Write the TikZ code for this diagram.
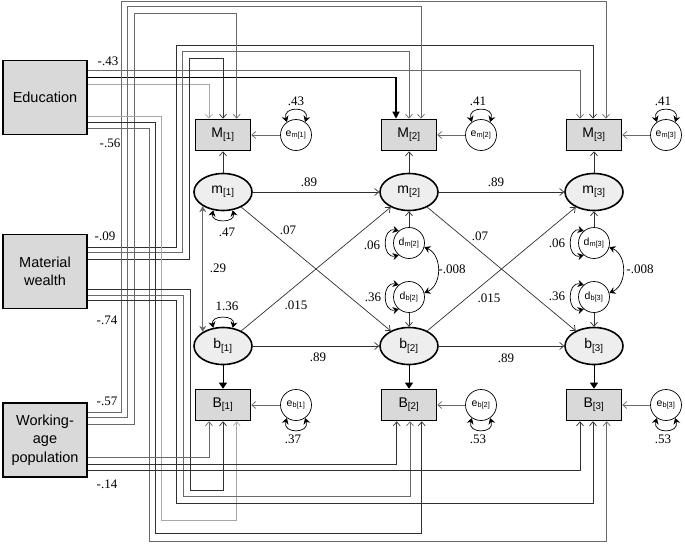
\documentclass[tikz,border=0pt]{standalone}
\usepackage{fontspec}
\setmainfont{Liberation Serif}
\setsansfont{Liberation Sans}
\usetikzlibrary{arrows.meta,shapes.geometric,calc}
\definecolor{boxgray}{HTML}{D9D9D9}
\definecolor{ellgray}{HTML}{EEEEEE}
\definecolor{lg}{HTML}{A8A8A8}
\definecolor{mg}{HTML}{6A6A6A}
\definecolor{dg}{HTML}{303030}
\begin{document}
\begin{tikzpicture}[x=1pt,y=-1pt,
  exo/.style={draw=black,line width=1.8pt,fill=boxgray,minimum width=84pt,minimum height=74pt,inner sep=0pt,align=center,font=\sffamily\fontsize{14.5}{18.5}\selectfont},
  obs/.style={draw=black,line width=1.6pt,fill=boxgray,minimum width=55pt,minimum height=31pt,inner sep=0pt,font=\sffamily\fontsize{14}{16}\selectfont},
  lat/.style={ellipse,draw=black,line width=1.6pt,fill=ellgray,minimum width=58pt,minimum height=37pt,inner sep=0pt,font=\sffamily\fontsize{14}{16}\selectfont},
  err/.style={circle,draw=black,line width=0.7pt,fill=white,minimum size=31pt,inner sep=0pt,font=\sffamily\fontsize{10.5}{12}\selectfont},
  ln/.style={line width=0.7pt,-{Straight Barb[length=4pt,width=7pt]}},
  boldln/.style={line width=1.4pt,draw=black,-{Triangle[length=7pt,width=7pt]}},
  sl/.style={line width=0.7pt,draw=dg,-{Straight Barb[length=4pt,width=7pt]}},
  ind/.style={line width=0.8pt,draw=black,-{Triangle[length=6pt,width=8pt]}},
  lp/.style={line width=0.7pt,draw=black,{Stealth[length=6pt,width=7pt]}-{Stealth[length=6pt,width=7pt]}},
  num/.style={font=\fontsize{13}{13}\selectfont,inner sep=0pt}
]
\useasboundingbox (0,0) rectangle (685,544);

% exogenous boxes
\node[exo] (edu) at (45,97.5) {Education};
\node[exo] (mat) at (45,271.5) {Material\\wealth};
\node[exo] (wap) at (45,440) {Working-\\age\\population};

% observed indicators
\node[obs] (M1) at (223,135) {M\textsubscript{[1]}};
\node[obs] (M2) at (409,135) {M\textsubscript{[2]}};
\node[obs] (M3) at (594,135) {M\textsubscript{[3]}};
\node[obs] (B1) at (223,405) {B\textsubscript{[1]}};
\node[obs] (B2) at (409,405) {B\textsubscript{[2]}};
\node[obs] (B3) at (594,405) {B\textsubscript{[3]}};

% latent
\node[lat] (m1) at (223,192) {m\textsubscript{[1]}};
\node[lat] (m2) at (409,192) {m\textsubscript{[2]}};
\node[lat] (m3) at (594,192) {m\textsubscript{[3]}};
\node[lat] (b1) at (223,346) {b\textsubscript{[1]}};
\node[lat] (b2) at (409,346) {b\textsubscript{[2]}};
\node[lat] (b3) at (594,346) {b\textsubscript{[3]}};

% errors
\node[err] (em1) at (296,135) {e\textsubscript{m[1]}};
\node[err] (em2) at (481,135) {e\textsubscript{m[2]}};
\node[err] (em3) at (666,135) {e\textsubscript{m[3]}};
\node[err] (eb1) at (296,405) {e\textsubscript{b[1]}};
\node[err] (eb2) at (481,405) {e\textsubscript{b[2]}};
\node[err] (eb3) at (666,405) {e\textsubscript{b[3]}};
\node[err] (dm2) at (409,243) {d\textsubscript{m[2]}};
\node[err] (db2) at (409,297) {d\textsubscript{b[2]}};
\node[err] (dm3) at (594,243) {d\textsubscript{m[3]}};
\node[err] (db3) at (594,297) {d\textsubscript{b[3]}};

% Education -> M
\draw[ln,draw=lg] ([yshift=13.5pt]edu.east) -| ([xshift=-14pt]M1.north);
\draw[boldln] ([yshift=20.2pt]edu.east) -| ([xshift=-13pt]M2.north);
\draw[ln,draw=mg] ([yshift=26.8pt]edu.east) -| ([xshift=-14pt]M3.north);
% Material -> M
\draw[ln,draw=dg] ([yshift=12.2pt]mat.east) -| (189.3,58.3) -| (M1.north);
\draw[ln,draw=mg] ([yshift=18.8pt]mat.east) -| (182.7,51.7) -| (M2.north);
\draw[ln,draw=dg] ([yshift=24.2pt]mat.east) -| (176,45) -| ([xshift=-1pt]M3.north);
% Working-age -> M
\draw[ln,draw=mg] ([yshift=15.7pt]wap.east) -| (134.3,13.3) -| ([xshift=13.7pt]M1.north);
\draw[ln,draw=mg] ([yshift=22.3pt]wap.east) -| (127.7,6.7) -| ([xshift=12pt]M2.north);
\draw[ln,draw=mg] ([yshift=27.7pt]wap.east) -| (121,1) -| ([xshift=12pt]M3.north);
% Education -> B
\draw[ln,draw=lg] ([yshift=-19.2pt]edu.east) -| (161.7,520) -| ([xshift=13.7pt]B1.south);
\draw[ln,draw=dg] ([yshift=-24.8pt]edu.east) -| (155.7,533.3) -| ([xshift=12.7pt]B2.south);
\draw[ln,draw=mg] ([yshift=-30.8pt]edu.east) -| (149.3,541.5) -| ([xshift=12.7pt]B3.south);
% Material -> B
\draw[ln,draw=dg] ([yshift=-17.8pt]mat.east) -| (190,490) -| (B1.south);
\draw[ln,draw=mg] ([yshift=-23.5pt]mat.east) -| (183.3,496.5) -| ([xshift=1pt]B2.south);
\draw[ln,draw=dg] ([yshift=-29.2pt]mat.east) -| (176.7,503.3) -| ([xshift=-1pt]B3.south);
% Working-age -> B
\draw[ln,draw=mg] ([yshift=-17.7pt]wap.east) -| ([xshift=-14pt]B1.south);
\draw[ln,draw=dg] ([yshift=-24.3pt]wap.east) -| ([xshift=-12.3pt]B2.south);
\draw[ln,draw=dg] ([yshift=-30pt]wap.east) -| ([xshift=-14pt]B3.south);

% path labels on the left
\node[num] at (108,61) {-.43};
\node[num] at (110,143) {-.56};
\node[num] at (105,236) {-.09};
\node[num] at (107,320) {-.74};
\node[num] at (107,401) {-.57};
\node[num] at (107,484) {-.14};

% structural paths
\draw[sl] (m1) -- (m2);
\draw[sl] (m2) -- (m3);
\draw[sl] (b1) -- (b2);
\draw[sl] (b2) -- (b3);
\draw[sl] (m1) -- (b2);
\draw[sl] (m2) -- (b3);
\draw[sl] (b1) -- (m2);
\draw[sl] (b2) -- (m3);
\node[num] at (309,182) {.89};
\node[num] at (496,182) {.89};
\node[num] at (318,357) {.89};
\node[num] at (506,358) {.89};
\node[num] at (288,230) {.07};
\node[num] at (480,236) {.07};
\node[num] at (296,305) {.015};
\node[num] at (489,298) {.015};

% measurement
\draw[sl] (m1) -- (M1);
\draw[sl] (m2) -- (M2);
\draw[sl] (m3) -- (M3);
\draw[ind] (b1) -- (B1);
\draw[ind] (b2) -- (B2);
\draw[ind] (b3) -- (B3);
\draw[sl,draw=mg] (em1) -- (M1);
\draw[sl,draw=mg] (em2) -- (M2);
\draw[sl,draw=mg] (em3) -- (M3);
\draw[sl,draw=mg] (eb1) -- (B1);
\draw[sl,draw=mg] (eb2) -- (B2);
\draw[sl,draw=mg] (eb3) -- (B3);

% disturbances
\draw[sl] (dm2) -- (m2);
\draw[sl] (dm3) -- (m3);
\draw[sl] (db2) -- (b2);
\draw[sl] (db3) -- (b3);

% error variances
\draw[lp] (em1.125) .. controls +(-5,-16) and +(5,-16) .. (em1.55);
\draw[lp] (em2.125) .. controls +(-5,-16) and +(5,-16) .. (em2.55);
\draw[lp] (em3.125) .. controls +(-5,-16) and +(5,-16) .. (em3.55);
\draw[lp] (eb1.-125) .. controls +(-5,16) and +(5,16) .. (eb1.-55);
\draw[lp] (eb2.-125) .. controls +(-5,16) and +(5,16) .. (eb2.-55);
\draw[lp] (eb3.-125) .. controls +(-5,16) and +(5,16) .. (eb3.-55);
\node[num] at (296,101) {.43};
\node[num] at (478,101) {.41};
\node[num] at (663,101) {.41};
\node[num] at (293,439) {.37};
\node[num] at (478,439) {.53};
\node[num] at (663,439) {.53};

% disturbance variances and covariances
\draw[lp] (dm2.130) .. controls +(-17,-4) and +(-17,4) .. (dm2.-130);
\draw[lp] (db2.130) .. controls +(-17,-4) and +(-17,4) .. (db2.-130);
\draw[lp] (dm3.130) .. controls +(-17,-4) and +(-17,4) .. (dm3.-130);
\draw[lp] (db3.130) .. controls +(-17,-4) and +(-17,4) .. (db3.-130);
\draw[lp] (dm2.-15) .. controls +(18,8) and +(18,-8) .. (db2.15);
\draw[lp] (dm3.-15) .. controls +(18,8) and +(18,-8) .. (db3.15);
\node[num] at (372,245) {.06};
\node[num] at (373,297) {.36};
\node[num] at (557,243) {.06};
\node[num] at (557,296) {.36};
\node[num] at (452,269) {-.008};
\node[num] at (640,269) {-.008};

% first wave variances and covariance
\draw[lp] (m1.-118) .. controls +(-3,13) and +(3,13) .. (m1.-62);
\draw[lp] (b1.118) .. controls +(-3,-13) and +(3,-13) .. (b1.62);
\draw[lp,draw=mg] (m1.-145) -- (b1.145);
\node[num] at (227,232) {.47};
\node[num] at (218,268) {.29};
\node[num] at (227,306) {1.36};
\end{tikzpicture}
\end{document}
